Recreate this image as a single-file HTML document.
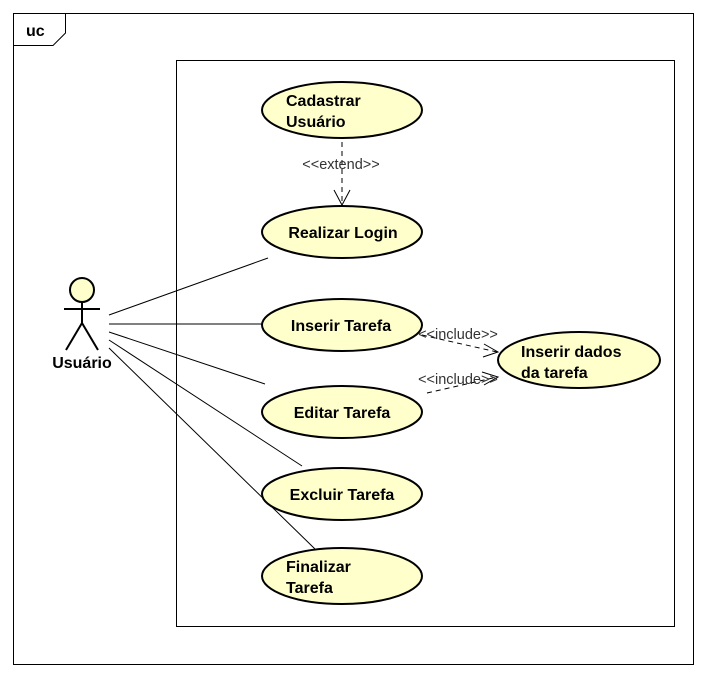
<!DOCTYPE html>
<html><head><meta charset="utf-8"><style>
html,body{margin:0;padding:0;background:#fff;}
svg{display:block;}
.b{font-family:"Liberation Sans",Arial,sans-serif;font-weight:bold;font-size:16px;fill:#000;}
.s{font-family:"Liberation Sans",Arial,sans-serif;font-size:14.5px;fill:#333;}
</style></head><body>
<svg width="708" height="678" viewBox="0 0 708 678">
<rect x="13.5" y="13.5" width="680" height="651" fill="#fff" stroke="#000"/>
<path d="M13.5 45.5 H53 L65.5 33 V13.5" fill="none" stroke="#000"/>
<text x="26" y="36" class="b">uc</text>
<rect x="176.5" y="60.5" width="498" height="566" fill="#fff" stroke="#000"/>
<g stroke="#000" stroke-width="1">
<line x1="109" y1="315" x2="268" y2="258"/>
<line x1="109" y1="324" x2="262" y2="324"/>
<line x1="109" y1="332" x2="265" y2="384"/>
<line x1="109" y1="340" x2="302" y2="466"/>
<line x1="109" y1="348" x2="315" y2="549"/>
</g>
<g fill="#ffffcc" stroke="#000" stroke-width="2">
<ellipse cx="342" cy="110" rx="80" ry="28"/>
<ellipse cx="342" cy="232" rx="80" ry="26"/>
<ellipse cx="342" cy="325" rx="80" ry="26"/>
<ellipse cx="342" cy="412" rx="80" ry="26"/>
<ellipse cx="342" cy="494" rx="80" ry="26"/>
<ellipse cx="342" cy="576" rx="80" ry="28"/>
<ellipse cx="579" cy="360" rx="81" ry="28"/>
</g>
<text x="286" y="106" class="b">Cadastrar</text>
<text x="286" y="127" class="b">Usuário</text>
<text x="343" y="238" class="b" text-anchor="middle">Realizar Login</text>
<text x="341" y="331" class="b" text-anchor="middle">Inserir Tarefa</text>
<text x="342" y="418" class="b" text-anchor="middle">Editar Tarefa</text>
<text x="342" y="500" class="b" text-anchor="middle">Excluir Tarefa</text>
<text x="286" y="572" class="b">Finalizar</text>
<text x="286" y="593" class="b">Tarefa</text>
<text x="521" y="357" class="b">Inserir dados</text>
<text x="521" y="378" class="b">da tarefa</text>
<g stroke="#000" stroke-width="2" fill="none">
<circle cx="82" cy="290" r="12" fill="#ffffcc"/>
<line x1="82" y1="302" x2="82" y2="323"/>
<line x1="64" y1="309" x2="100" y2="309"/>
<line x1="82" y1="323" x2="66" y2="350"/>
<line x1="82" y1="323" x2="98" y2="350"/>
</g>
<text x="82" y="368" class="b" text-anchor="middle">Usuário</text>
<g stroke="#000" stroke-width="1" fill="none" stroke-dasharray="5,4">
<line x1="342" y1="142" x2="342" y2="205"/>
<line x1="422" y1="335" x2="497" y2="352"/>
<line x1="427" y1="393" x2="497" y2="377"/>
</g>
<g stroke="#000" stroke-width="1" fill="none">
<path d="M334 190 L342 205 L350 190"/>
<path d="M484 344 L498 352 L483 357"/>
<path d="M482 372 L498 377 L484 385"/>
</g>
<text x="341" y="169" class="s" text-anchor="middle">&lt;&lt;extend&gt;&gt;</text>
<text x="458" y="339" class="s" text-anchor="middle">&lt;&lt;include&gt;&gt;</text>
<text x="458" y="384" class="s" text-anchor="middle">&lt;&lt;include&gt;&gt;</text>
</svg>
</body></html>
